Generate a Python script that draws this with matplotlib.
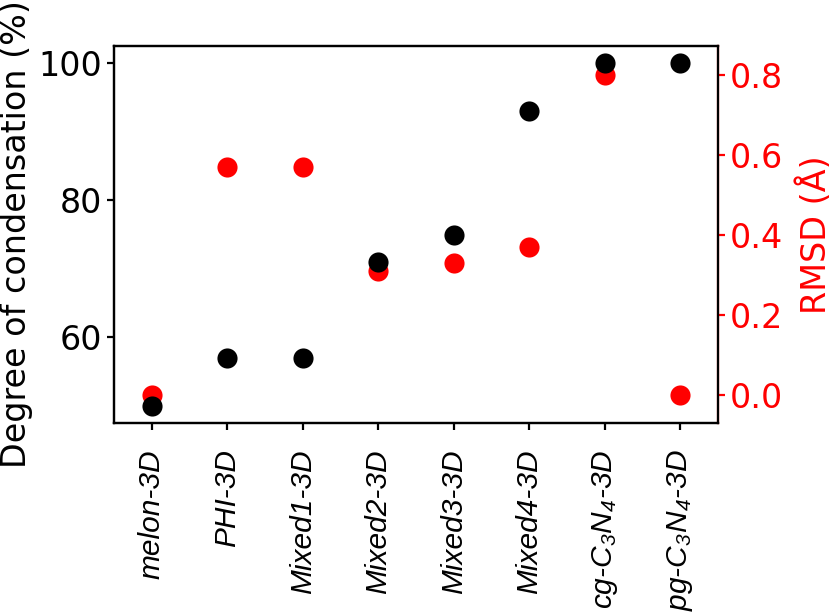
import matplotlib
matplotlib.use("Agg")
import matplotlib.pyplot as plt

plt.rcParams['mathtext.fontset'] = 'custom'
plt.rcParams['mathtext.it'] = 'Liberation Sans:italic'
plt.rcParams['mathtext.rm'] = 'Liberation Sans:italic'
plt.rcParams['mathtext.default'] = 'it'

categories = ["melon-3D", "PHI-3D", "Mixed1-3D", "Mixed2-3D", "Mixed3-3D",
              "Mixed4-3D", "cg-C$_3$N$_4$-3D", "pg-C$_3$N$_4$-3D"]
condensation = [50, 57, 57, 71, 75, 93, 100, 100]
rmsd = [0.0, 0.57, 0.57, 0.31, 0.33, 0.37, 0.80, 0.0]

fig = plt.figure(figsize=(8.31, 6.12), dpi=100)
ax = fig.add_axes([114/831, 1 - 423/612, (718-114)/831, (423-46)/612])
ax2 = ax.twinx()
x = list(range(len(categories)))

ax2.scatter(x, rmsd, s=210, color='red', zorder=3, linewidths=0)
ax.scatter(x, condensation, s=210, color='black', zorder=3, linewidths=0)
ax.set_zorder(ax2.get_zorder() + 1)
ax.patch.set_visible(False)

ax.set_xlim(-0.5, 7.5)
ax.set_ylim(47.5, 102.5)
ax2.set_ylim(-0.07, 0.8725)
ax.set_yticks([60, 80, 100])
ax2.set_yticks([0.0, 0.2, 0.4, 0.6, 0.8])

ax.set_xticks(x)
ax.set_xticklabels(categories, rotation=90, fontsize=21.5, fontstyle='italic',
                   family='Liberation Sans')
ax.tick_params(axis='x', pad=14, width=1.6, length=5)
ax.tick_params(axis='y', labelsize=24, width=1.6, length=5)
ax2.tick_params(axis='y', labelsize=24, colors='red', width=1.6, length=5)

for s in ax.spines.values():
    s.set_linewidth(1.6)
for s in ax2.spines.values():
    s.set_linewidth(1.6)
ax2.spines['right'].set_color('red')

ax.set_ylabel("Degree of condensation (%)", fontsize=24, labelpad=4)
ax2.set_ylabel("RMSD (Å)", fontsize=24, color='red', labelpad=10)

fig.savefig("out.png", dpi=100)
